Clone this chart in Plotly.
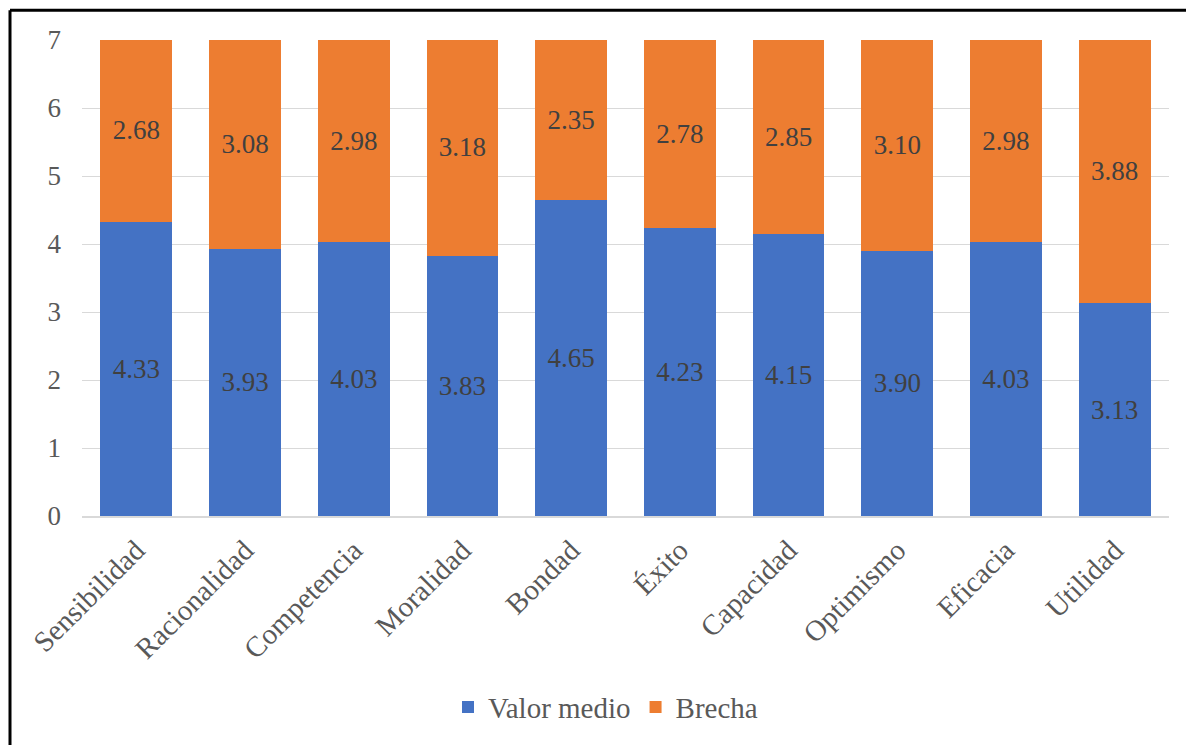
import plotly.graph_objects as go

categories = ["Sensibilidad", "Racionalidad", "Competencia", "Moralidad", "Bondad",
              "Éxito", "Capacidad", "Optimismo", "Eficacia", "Utilidad"]
valor_medio = [4.33, 3.93, 4.03, 3.83, 4.65, 4.23, 4.15, 3.90, 4.03, 3.13]
brecha = [2.68, 3.08, 2.98, 3.18, 2.35, 2.78, 2.85, 3.10, 2.98, 3.88]
y_ticks = [0, 1, 2, 3, 4, 5, 6, 7]

FONT = "Liberation Serif"
W, H = 1186, 745
L, R, T, B = 82, 17, 40, 227

fig = go.Figure()
fig.add_trace(go.Bar(
    x=categories, y=valor_medio, name="Valor medio",
    marker=dict(color="#4472C4", line=dict(width=0)),
    text=[f"{v:.2f}" for v in valor_medio], textposition="inside",
    insidetextanchor="middle",
    textfont=dict(family=FONT, size=27, color="#404040"),
))
fig.add_trace(go.Bar(
    x=categories, y=brecha, name="Brecha",
    marker=dict(color="#ED7D31", line=dict(width=0)),
    text=[f"{v:.2f}" for v in brecha], textposition="inside",
    insidetextanchor="middle",
    textfont=dict(family=FONT, size=27, color="#404040"),
))

pw, ph = W - L - R, H - T - B
fig.update_layout(
    width=W, height=H,
    margin=dict(l=L, r=R, t=T, b=B),
    barmode="stack", bargap=0.34,
    plot_bgcolor="white", paper_bgcolor="white",
    font=dict(family=FONT, size=27, color="#595959"),
    uniformtext=dict(minsize=20, mode="show"),
    xaxis=dict(tickangle=-45, tickfont=dict(family=FONT, size=29, color="#595959"),
               showline=True, linecolor="#d9d9d9", linewidth=1.5,
               ticks="", showgrid=False, ticklabelstandoff=4),
    yaxis=dict(range=[0, 7], tickvals=y_ticks, showgrid=True,
               gridcolor="#d9d9d9", gridwidth=1.2, zeroline=False,
               tickfont=dict(family=FONT, size=27, color="#595959"), ticks="",
               ticklabelstandoff=20),
    legend=dict(orientation="h", x=0.5 - 20 / pw, xanchor="center",
                y=-(710 - (H - B)) / ph, yanchor="middle",
                font=dict(family=FONT, size=29, color="#595959"),
                traceorder="normal", itemwidth=30),
    showlegend=True,
)

# Frame along the top and left edges
x_left = (10 - L) / pw
y_top = (H - B - 10) / ph
fig.add_shape(type="line", xref="paper", yref="paper", x0=x_left, x1=(W - L) / pw + 0.01,
              y0=y_top, y1=y_top, line=dict(color="black", width=3))
fig.add_shape(type="line", xref="paper", yref="paper", x0=x_left, x1=x_left,
              y0=y_top, y1=-(B + 10) / ph, line=dict(color="black", width=3))

fig.write_html("out.html")
